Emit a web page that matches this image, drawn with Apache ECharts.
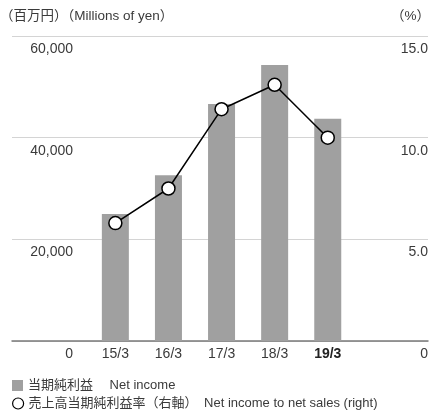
<!DOCTYPE html>
<html><head><meta charset="utf-8">
<script src="https://cdn.jsdelivr.net/npm/echarts@6/dist/echarts.min.js"></script>
<style>html,body{margin:0;padding:0;background:#fff}#c{width:431px;height:411px}</style>
</head><body><div id="c"></div>
<script>
var categories = ['15/3', '16/3', '17/3', '18/3', '19/3'];
var netIncome = [25000, 32600, 46600, 54300, 43700];
var incomeRatio = [5.8, 7.5, 11.4, 12.6, 10.0];
var leftTicks = [0, 20000, 40000, 60000];
var rightTicks = [0, 5, 10, 15];
var barName = '当期純利益　 Net income';
var lineName = '売上高当期純利益率（右軸）　Net income to net sales (right)';

var FONT = '"Liberation Sans", "Noto Sans CJK JP", sans-serif';
var TXT = '#3a3a3a';
var chart = echarts.init(document.getElementById('c'), null, {renderer: 'canvas'});
var legendText = {color: TXT, fontSize: 13, fontFamily: FONT};
chart.setOption({
  animation: false,
  textStyle: {fontFamily: FONT},
  graphic: [
    {type: 'text', left: 0, top: 10, style: {text: '（百万円）（Millions of yen）', fill: TXT, font: '13.5px ' + FONT}},
    {type: 'text', right: 1, top: 10, style: {text: '（%）', fill: TXT, font: '13.5px ' + FONT}}
  ],
  legend: [
    {left: 12, top: 379, padding: 0, itemWidth: 11, itemHeight: 11, selectedMode: false, textStyle: legendText,
     data: [{name: barName, icon: 'rect'}]},
    {left: 12, top: 397, padding: 0, itemWidth: 11, itemHeight: 11, selectedMode: false, textStyle: legendText,
     data: [{name: lineName, icon: 'circle', itemStyle: {color: '#fff', borderColor: '#000', borderWidth: 1.2}}]}
  ],
  grid: [
    {left: 12, right: 1, top: 36, bottom: 70},
    {left: 88.8, right: 76.7, top: 36, bottom: 70}
  ],
  xAxis: [
    {type: 'value', gridIndex: 0, min: 0, max: 1, axisLabel: {show: false}, axisTick: {show: false}, splitLine: {show: false},
     axisLine: {show: true, lineStyle: {color: '#7a7a7a', width: 1.5}}},
    {type: 'category', gridIndex: 1, data: categories, axisLine: {show: false}, axisTick: {show: false},
     axisLabel: {interval: 0, margin: 6, color: TXT, fontSize: 14, fontFamily: FONT,
       formatter: function (v, i) { return i === categories.length - 1 ? '{b|' + v + '}' : v; },
       rich: {b: {fontWeight: 'bold', fontSize: 14, color: '#222', fontFamily: FONT}}}}
  ],
  yAxis: [
    {type: 'value', gridIndex: 0, min: leftTicks[0], max: leftTicks[leftTicks.length - 1], interval: 20000,
     axisLine: {show: false}, axisTick: {show: false},
     splitLine: {show: true, lineStyle: {color: '#d4d4d4', width: 1}},
     axisLabel: {inside: true, margin: 61, align: 'right', verticalAlign: 'top', padding: [6, 0, 0, 0],
       color: TXT, fontSize: 14, fontFamily: FONT,
       formatter: function (v) { return v.toLocaleString('en-US'); }}},
    {type: 'value', gridIndex: 0, position: 'right', min: rightTicks[0], max: rightTicks[rightTicks.length - 1], interval: 5,
     axisLine: {show: false}, axisTick: {show: false}, splitLine: {show: false},
     axisLabel: {inside: true, margin: 0, align: 'right', verticalAlign: 'top', padding: [6, 0, 0, 0],
       color: TXT, fontSize: 14, fontFamily: FONT,
       formatter: function (v) { return v === 0 ? '0' : v.toFixed(1); }}},
    {type: 'value', gridIndex: 1, min: 0, max: 60000, show: false},
    {type: 'value', gridIndex: 1, min: 0, max: 15, show: false}
  ],
  series: [
    {name: barName, type: 'bar', xAxisIndex: 1, yAxisIndex: 2, data: netIncome, barWidth: 27,
     itemStyle: {color: '#a0a0a0'}},
    {name: lineName, type: 'line', xAxisIndex: 1, yAxisIndex: 3, data: incomeRatio,
     symbol: 'circle', symbolSize: 13,
     lineStyle: {color: '#000', width: 1.5},
     itemStyle: {color: '#fff', borderColor: '#000', borderWidth: 1.5}}
  ]
});
</script></body></html>
